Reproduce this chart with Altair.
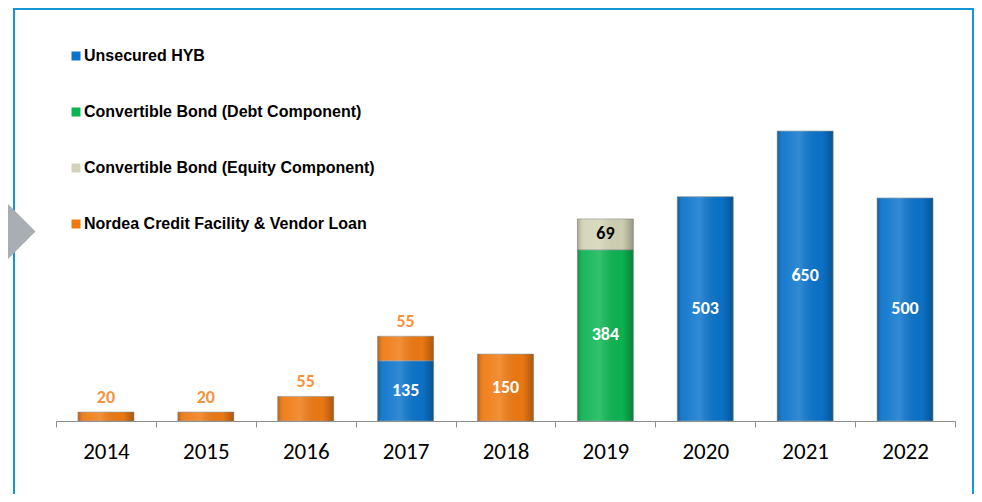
import altair as alt
import pandas as pd

years = ["2014", "2015", "2016", "2017", "2018", "2019", "2020", "2021", "2022"]
series = [
    "Unsecured HYB",
    "Convertible Bond (Debt Component)",
    "Convertible Bond (Equity Component)",
    "Nordea Credit Facility & Vendor Loan",
]
hyb = [0, 0, 0, 135, 0, 0, 503, 650, 500]
cb_debt = [0, 0, 0, 0, 0, 384, 0, 0, 0]
cb_equity = [0, 0, 0, 0, 0, 69, 0, 0, 0]
nordea = [20, 20, 55, 55, 150, 0, 0, 0, 0]
colors = ["#0B74CB", "#0CB552", "#D3D4B6", "#EF7A12"]

rows = []
for si, vals in enumerate([hyb, cb_debt, cb_equity, nordea]):
    for y, v in zip(years, vals):
        if v > 0:
            rows.append({"year": y, "series": series[si], "order": si, "value": v})
df = pd.DataFrame(rows)

W, H = 899, 405
YMAX = 908

xenc = alt.X(
    "year:N",
    sort=years,
    scale=alt.Scale(paddingInner=0, paddingOuter=0),
    axis=alt.Axis(
        title=None,
        labelAngle=0,
        domainColor="#8c8c8c",
        tickColor="#8c8c8c",
        tickSize=6,
        tickBand="extent",
        labelFont="Carlito, Calibri, Lato",
        labelFontSize=23,
        labelColor="#000000",
        labelBaseline="middle",
        labelPadding=24,
    ),
)
yscale = alt.Scale(domain=[0, YMAX], nice=False, zero=True)

base = alt.Chart(df).transform_stack(
    stack="value", groupby=["year"], as_=["y0", "y1"],
    sort=[alt.SortField("order", order="ascending")],
).transform_calculate(
    mid="(datum.y0 + datum.y1) / 2",
    outside="datum.order == 3 && datum.value < 100",
)

bars = base.mark_bar(
    width=alt.RelativeBandSize(0.56), stroke="#9a9a9a", strokeWidth=1, strokeOpacity=0.7
).encode(
    x=xenc,
    y=alt.Y("y0:Q", scale=yscale, axis=None),
    y2="y1:Q",
    color=alt.Color(
        "series:N",
        scale=alt.Scale(domain=series, range=colors),
        legend=alt.Legend(
            title=None,
            orient="none",
            legendX=12,
            legendY=32,
            direction="vertical",
            symbolType="square",
            symbolSize=81,
            symbolStrokeWidth=0,
            labelFont="Liberation Sans, Arial",
            labelFontSize=16,
            labelFontWeight="bold",
            labelColor="#000000",
            labelOffset=0,
            rowPadding=40,
            padding=0,
            labelLimit=600,
        ),
    ),
)

shine = base.mark_bar(
    width=alt.RelativeBandSize(0.56),
    fill=alt.Gradient(
        gradient="linear", x1=0, x2=1, y1=0, y2=0,
        stops=[
            alt.GradientStop(offset=0, color="rgba(0,0,0,0.22)"),
            alt.GradientStop(offset=0.12, color="rgba(255,255,255,0.06)"),
            alt.GradientStop(offset=0.4, color="rgba(255,255,255,0.16)"),
            alt.GradientStop(offset=0.8, color="rgba(0,0,0,0.02)"),
            alt.GradientStop(offset=1, color="rgba(0,0,0,0.28)"),
        ],
    ),
).encode(x=xenc, y=alt.Y("y0:Q", scale=yscale, axis=None), y2="y1:Q")

lbl_font = "Carlito, Calibri, Lato"
inside_white = base.transform_filter(
    "!datum.outside && datum.order != 2"
).mark_text(font=lbl_font, fontSize=18, fontWeight="bold", color="#ffffff", baseline="middle").encode(
    x=xenc, y=alt.Y("mid:Q", scale=yscale, axis=None), text="value:Q"
)
inside_black = base.transform_filter(
    "datum.order == 2"
).mark_text(font=lbl_font, fontSize=18, fontWeight="bold", color="#000000", baseline="middle").encode(
    x=xenc, y=alt.Y("mid:Q", scale=yscale, axis=None), text="value:Q"
)
outside = base.transform_filter(
    "datum.outside"
).mark_text(font=lbl_font, fontSize=18, fontWeight="bold", color="#F59340", baseline="middle", dy=-14).encode(
    x=xenc, y=alt.Y("y1:Q", scale=yscale, axis=None), text="value:Q"
)

one = alt.Data(values=[{"k": 1}])
frame_col = "#1595D3"
frame_left = alt.Chart(one).mark_rule(color=frame_col, strokeWidth=2).encode(
    x=alt.value(-42), y=alt.value(-8), y2=alt.value(H + 80)
)
frame_right = alt.Chart(one).mark_rule(color=frame_col, strokeWidth=2).encode(
    x=alt.value(917), y=alt.value(-8), y2=alt.value(H + 80)
)
frame_top = alt.Chart(one).mark_rule(color=frame_col, strokeWidth=2).encode(
    x=alt.value(-43), x2=alt.value(918), y=alt.value(-7)
)
arrow = alt.Chart(one).mark_point(
    shape="M -1 -1 L 0 -1 L 1 0 L 0 1 L -1 1 Z",
    filled=True, fill="#A8AEB3", opacity=1, strokeWidth=0, size=4225,
).encode(x=alt.value(-53), y=alt.value(215.5))

chart = alt.layer(
    frame_left, frame_right, frame_top, arrow, bars, shine, inside_white, inside_black, outside
).properties(
    width=W, height=H,
    autosize=alt.AutoSizeParams(type="none"),
    padding={"left": 48, "top": 8, "right": 19, "bottom": 73},
).configure_view(stroke=None)

chart.save("out.html", embed_options={"renderer": "svg", "actions": False})
